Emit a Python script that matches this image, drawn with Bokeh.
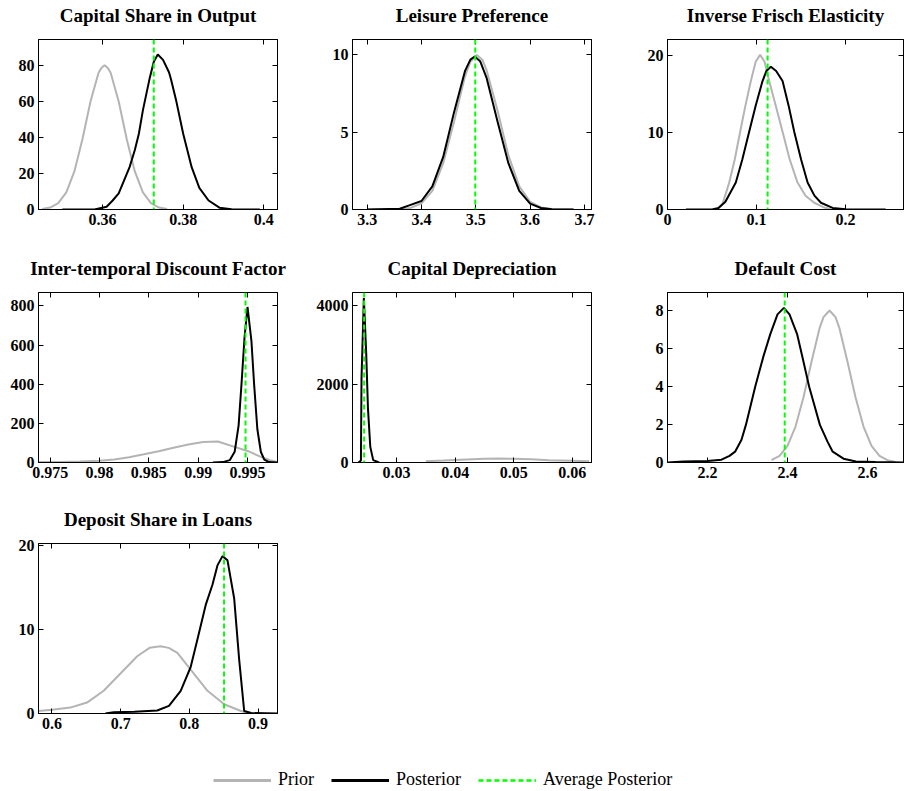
from bokeh.plotting import figure
from bokeh.models import (Range1d, FixedTicker, LinearAxis, CustomJSTickFormatter,
                          Legend, LegendItem, Span)
from bokeh.layouts import column, row
from bokeh.embed import file_html
from bokeh.resources import INLINE

# ---------------- data ----------------
titles = ["Capital Share in Output", "Leisure Preference", "Inverse Frisch Elasticity",
          "Inter-temporal Discount Factor", "Capital Depreciation", "Default Cost",
          "Deposit Share in Loans"]

# 1 Capital share
cap_prior_x = [0.345, 0.347, 0.349, 0.351, 0.353, 0.355, 0.357, 0.359, 0.3597, 0.3605, 0.3613,
               0.362, 0.364, 0.366, 0.368, 0.370, 0.372, 0.374, 0.376]
cap_prior_y = [0.3, 1.1, 3.5, 9.5, 21.1, 39.0, 59.9, 75.8, 78.5, 80.0, 78.5, 75.8, 59.9, 39.0,
               21.1, 9.5, 3.5, 1.1, 0.3]
cap_post_x = [0.350, 0.358, 0.361, 0.3625, 0.364, 0.3667, 0.368, 0.369, 0.370, 0.3717, 0.3727,
              0.3737, 0.375, 0.3765, 0.377, 0.3783, 0.380, 0.3821, 0.384, 0.3863, 0.389, 0.392,
              0.399]
cap_post_y = [0, 0, 1.5, 5, 9, 23.5, 33, 42, 55, 73, 82, 86, 83, 76, 72, 60, 42, 23.5, 12, 5,
              1, 0.2, 0]
cap_avg = 0.3727
cap_xticks = [0.36, 0.38, 0.4]
cap_yticks = [0, 20, 40, 60, 80]

# 2 Leisure preference
lei_prior_x = [3.30, 3.36, 3.38, 3.40, 3.42, 3.44, 3.46, 3.48, 3.49, 3.502, 3.512, 3.52, 3.54,
               3.56, 3.58, 3.60, 3.62, 3.64, 3.68]
lei_prior_y = [0, 0.02, 0.1, 0.4, 1.2, 3.0, 5.7, 8.6, 9.56, 10.0, 9.69, 9.0, 6.4, 3.5, 1.5,
               0.5, 0.13, 0.03, 0]
lei_post_x = [3.30, 3.36, 3.38, 3.40, 3.42, 3.44, 3.46, 3.48, 3.49, 3.498, 3.508, 3.52, 3.54,
              3.56, 3.58, 3.60, 3.62, 3.64, 3.68]
lei_post_y = [0, 0.05, 0.3, 0.55, 1.5, 3.4, 6.3, 8.95, 9.7, 9.9, 9.6, 8.5, 5.7, 3.0, 1.2, 0.38,
              0.1, 0.02, 0]
lei_avg = 3.499
lei_xticks = [3.3, 3.4, 3.5, 3.6, 3.7]
lei_yticks = [0, 5, 10]

# 3 Inverse Frisch elasticity
fri_prior_x = [0.056, 0.062, 0.0693, 0.0755, 0.0816, 0.0875, 0.0936, 0.099, 0.104, 0.109,
               0.1142, 0.122, 0.1292, 0.137, 0.146, 0.155, 0.1648, 0.175, 0.1835]
fri_prior_y = [0.1, 0.8, 3.5, 6.5, 10.1, 13.5, 16.7, 19.2, 20.1, 19.2, 16.7, 13.3, 10.1, 6.6,
               3.5, 1.8, 0.88, 0.3, 0]
fri_post_x = [0.0206, 0.050, 0.0573, 0.065, 0.0767, 0.084, 0.0917, 0.099, 0.1067, 0.111,
              0.1161, 0.122, 0.1292, 0.136, 0.1423, 0.150, 0.1573, 0.165, 0.1723, 0.1854,
              0.200, 0.245]
fri_post_y = [0, 0, 0.2, 1.0, 3.5, 6.5, 10.1, 13.5, 16.7, 18.0, 18.56, 18.0, 16.7, 13.5, 10.1,
              6.5, 3.5, 1.8, 0.88, 0.2, 0.03, 0]
fri_avg = 0.1124
fri_xticks = [0, 0.1, 0.2]
fri_yticks = [0, 10, 20]

# 4 Discount factor
dis_prior_x = [0.9738, 0.976, 0.978, 0.980, 0.9815, 0.983, 0.9845, 0.986, 0.9875, 0.989,
               0.9905, 0.992, 0.9936, 0.995, 0.9963, 0.9973, 0.998]
dis_prior_y = [2, 3, 5, 9, 15, 27, 42, 58, 75, 92, 105, 107, 81, 59, 30, 12, 3]
dis_post_x = [0.9915, 0.9925, 0.9932, 0.9937, 0.9941, 0.99439, 0.9947, 0.9950, 0.9954,
              0.99567, 0.9960, 0.99635, 0.9967, 0.9972, 0.998]
dis_post_y = [0, 2, 12, 55, 190, 400, 640, 795, 620, 400, 170, 55, 15, 2, 0]
dis_avg = 0.9948
dis_xticks = [0.975, 0.98, 0.985, 0.99, 0.995]
dis_yticks = [0, 200, 400, 600, 800]

# 5 Capital depreciation
dep_prior_x = [0.035, 0.038, 0.042, 0.045, 0.0475, 0.050, 0.053, 0.056, 0.060, 0.0629]
dep_prior_y = [35, 50, 75, 95, 100, 95, 80, 60, 45, 35]
dep_post_x = [0.0235, 0.0239, 0.0240, 0.0244, 0.0248, 0.0251, 0.0255, 0.0260, 0.0270]
dep_post_y = [0, 50, 2150, 4200, 2800, 1390, 400, 60, 0]
dep_avg = 0.02445
dep_xticks = [0.03, 0.04, 0.05, 0.06]
dep_yticks = [0, 2000, 4000]

# 6 Default cost
def_prior_x = [2.36, 2.38, 2.40, 2.42, 2.44, 2.46, 2.48, 2.49, 2.505, 2.52, 2.53, 2.55, 2.57,
               2.59, 2.61, 2.63, 2.65, 2.67]
def_prior_y = [0.12, 0.35, 0.88, 1.89, 3.44, 5.3, 7.06, 7.65, 8.0, 7.65, 7.06, 5.3, 3.44, 1.89,
               0.88, 0.35, 0.12, 0.03]
def_post_x = [2.10, 2.14, 2.20, 2.235, 2.255, 2.269, 2.285, 2.296, 2.3194, 2.34, 2.357, 2.375,
              2.391, 2.405, 2.424, 2.44, 2.454, 2.481, 2.50, 2.513, 2.54, 2.571, 2.62, 2.69]
def_post_y = [0, 0.05, 0.08, 0.15, 0.35, 0.57, 1.2, 1.98, 4.0, 5.6, 6.76, 7.8, 8.14, 7.8, 6.76,
              5.3, 4.0, 1.98, 1.1, 0.57, 0.2, 0.05, 0.02, 0]
def_avg = 2.393
def_xticks = [2.2, 2.4, 2.6]
def_yticks = [0, 2, 4, 6, 8]

# 7 Deposit share in loans
dsl_prior_x = [0.5804, 0.600, 0.6267, 0.651, 0.6753, 0.6997, 0.7241, 0.742, 0.758, 0.770,
               0.7826, 0.8019, 0.8264, 0.8507, 0.875, 0.885]
dsl_prior_y = [0.3, 0.45, 0.7, 1.3, 2.7, 4.76, 6.8, 7.8, 8.0, 7.8, 7.2, 5.2, 2.7, 1.1, 0.3, 0.05]
dsl_post_x = [0.6778, 0.690, 0.720, 0.7533, 0.7703, 0.7874, 0.802, 0.8117, 0.8238, 0.8336,
              0.8409, 0.8482, 0.8555, 0.8652, 0.8725, 0.8798, 0.890, 0.9283]
dsl_post_y = [0, 0.15, 0.2, 0.35, 0.9, 2.7, 5.55, 8.8, 12.9, 15.3, 17.6, 18.7, 18.2, 13.7, 6.4,
              0.3, 0.05, 0]
dsl_avg = 0.8505
dsl_xticks = [0.6, 0.7, 0.8, 0.9]
dsl_yticks = [0, 10, 20]

legend_labels = ["Prior", "Posterior", "Average Posterior"]

# ---------------- styling ----------------
FONT = "Liberation Serif"
PRIOR_C = "#b4b4b4"
POST_C = "#000000"
AVG_C = "#00ff00"


def panel(title, xr, yr, xt, yt, px, py, qx, qy, avg, left, right, top, fw, bottom):
    p = figure(frame_width=fw, frame_height=170, x_range=Range1d(*xr), y_range=Range1d(*yr),
               min_border_left=left, min_border_right=right, min_border_top=top,
               min_border_bottom=bottom, toolbar_location=None, output_backend="svg")
    p.add_layout(LinearAxis(), "above")
    p.add_layout(LinearAxis(), "right")
    for ax in p.xaxis:
        ax.ticker = FixedTicker(ticks=xt)
    for ax in p.yaxis:
        ax.ticker = FixedTicker(ticks=yt)
    for ax in p.axis:
        ax.major_tick_in = 5
        ax.major_tick_out = 0
        ax.minor_tick_line_color = None
        ax.axis_line_color = "black"
        ax.major_tick_line_color = "black"
        ax.major_label_text_font = FONT
        ax.major_label_text_font_style = "bold"
        ax.major_label_text_font_size = "16px"
        ax.major_label_text_color = "black"
    for ax in (p.below[0], p.left[0]):
        ax.formatter = CustomJSTickFormatter(code="return String(tick);")
        ax.major_label_standoff = 4
    for ax in (p.above[0], p.right[0]):
        ax.formatter = CustomJSTickFormatter(code="return '';")
        ax.major_label_standoff = 0
        ax.major_label_text_font_size = "1px"
    # panel title carried by the (label-less) top axis
    top_ax = p.above[0]
    top_ax.axis_label = title
    top_ax.axis_label_standoff = 14
    top_ax.axis_label_text_font = FONT
    top_ax.axis_label_text_font_style = "bold"
    top_ax.axis_label_text_font_size = "19px"
    top_ax.axis_label_text_color = "black"
    p.grid.visible = False
    p.outline_line_color = "black"
    p.outline_line_width = 1
    p.line(px, py, line_color=PRIOR_C, line_width=2)
    p.line(qx, qy, line_color=POST_C, line_width=2)
    p.add_layout(Span(location=avg, dimension="height", line_color=AVG_C, line_width=2,
                      line_dash="5 3"))
    p.background_fill_color = "white"
    p.border_fill_color = "white"
    return p


p1 = panel(titles[0], (0.3441, 0.4034), (0, 94.3), cap_xticks, cap_yticks, cap_prior_x,
           cap_prior_y, cap_post_x, cap_post_y, cap_avg, 38, 25, 39, 239, 44)
p2 = panel(titles[1], (3.273, 3.713), (0, 11.0), lei_xticks, lei_yticks, lei_prior_x,
           lei_prior_y, lei_post_x, lei_post_y, lei_avg, 50, 26, 39, 239, 44)
p3 = panel(titles[2], (0, 0.265), (0, 22.1), fri_xticks, fri_yticks, fri_prior_x,
           fri_prior_y, fri_post_x, fri_post_y, fri_avg, 50, 1, 39, 236, 44)
p4 = panel(titles[3], (0.97382, 0.99804), (0, 869), dis_xticks, dis_yticks, dis_prior_x,
           dis_prior_y, dis_post_x, dis_post_y, dis_avg, 38, 25, 39, 239, 42)
p5 = panel(titles[4], (0.02246, 0.0633), (0, 4343), dep_xticks, dep_yticks, dep_prior_x,
           dep_prior_y, dep_post_x, dep_post_y, dep_avg, 50, 26, 39, 239, 42)
p6 = panel(titles[5], (2.1, 2.69), (0, 8.95), def_xticks, def_yticks, def_prior_x,
           def_prior_y, def_post_x, def_post_y, def_avg, 50, 1, 39, 236, 42)
p7 = panel(titles[6], (0.5804, 0.9283), (0, 20.2), dsl_xticks, dsl_yticks, dsl_prior_x,
           dsl_prior_y, dsl_post_x, dsl_post_y, dsl_avg, 38, 25, 39, 239, 26)

# legend strip
nan = float("nan")
lf = figure(width=896, height=52, x_range=Range1d(0, 1), y_range=Range1d(0, 1),
            toolbar_location=None, output_backend="svg", x_axis_type=None, y_axis_type=None,
            min_border=0, outline_line_color=None)
lf.grid.visible = False
r_prior = lf.line([nan], [nan], line_color=PRIOR_C, line_width=3)
r_post = lf.line([nan], [nan], line_color=POST_C, line_width=3)
r_avg = lf.line([nan], [nan], line_color=AVG_C, line_width=2.5, line_dash="5 3")
leg = Legend(items=[LegendItem(label=legend_labels[0], renderers=[r_prior]),
                    LegendItem(label=legend_labels[1], renderers=[r_post]),
                    LegendItem(label=legend_labels[2], renderers=[r_avg])],
             orientation="horizontal", location=(175, 1), padding=0, margin=0, spacing=17,
             glyph_width=58, label_standoff=7, border_line_color=None,
             background_fill_alpha=0, label_text_font=FONT, label_text_font_size="18px",
             label_text_color="black")
lf.add_layout(leg)

layout = column(row(p1, p2, p3), row(p4, p5, p6), p7, lf)
open("out.html", "w").write(file_html(layout, INLINE))
